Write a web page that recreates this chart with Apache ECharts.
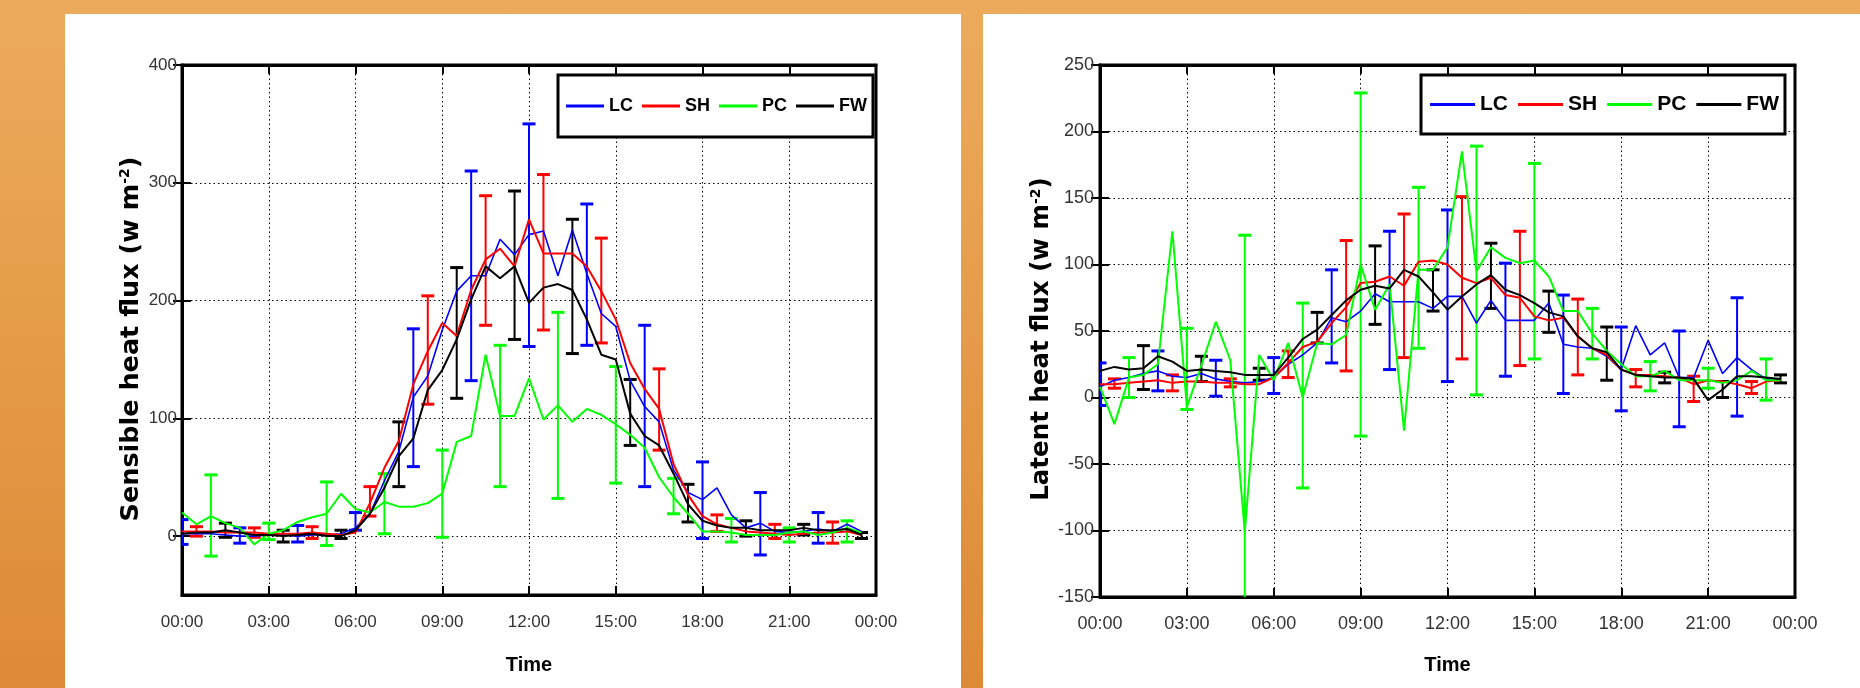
<!DOCTYPE html>
<html>
<head>
<meta charset="utf-8">
<script src="https://cdn.jsdelivr.net/npm/echarts@6/dist/echarts.min.js"></script>
<style>
html, body { margin: 0; padding: 0; }
body { width: 1860px; height: 688px; position: relative; overflow: hidden;
       background: linear-gradient(to bottom, #ecab5c, #dd8a36); }
.panel { position: absolute; top: 14px; bottom: 0; background: #fff; }
#chart { position: absolute; left: 0; top: 0; width: 1860px; height: 688px; }
</style>
</head>
<body>
<div class="panel" style="left:65px;width:896px"></div>
<div class="panel" style="left:983px;width:877px"></div>
<div id="chart"></div>
<script>
// half-hour time steps (hours after midnight)
var halfHours = [0, 0.5, 1, 1.5, 2, 2.5, 3, 3.5, 4, 4.5, 5, 5.5,
                 6, 6.5, 7, 7.5, 8, 8.5, 9, 9.5, 10, 10.5, 11, 11.5,
                 12, 12.5, 13, 13.5, 14, 14.5, 15, 15.5, 16, 16.5, 17, 17.5,
                 18, 18.5, 19, 19.5, 20, 20.5, 21, 21.5, 22, 22.5, 23, 23.5];
var xTickLabels = ['00:00', '03:00', '06:00', '09:00', '12:00', '15:00', '18:00', '21:00', '00:00'];
var sensibleTicks = [0, 100, 200, 300, 400];
var seriesNames = ['LC', 'SH', 'PC', 'FW'];
var seriesColors = ['#0000ff', '#ff0000', '#00ff00', '#000000'];

// times where each site has an error bar
var errTimeLC = [0, 2, 4, 6, 8, 10, 12, 14, 16, 18, 20, 22];
var errTimeSH = [0.5, 2.5, 4.5, 6.5, 8.5, 10.5, 12.5, 14.5, 16.5, 18.5, 20.5, 22.5];
var errTimePC = [1, 3, 5, 7, 9, 11, 13, 15, 17, 19, 21, 23];
var errTimeFW = [1.5, 3.5, 5.5, 7.5, 9.5, 11.5, 13.5, 15.5, 17.5, 19.5, 21.5, 23.5];

// sensible heat flux (w m-2)
var shfLC = [2, 2, 2, 1, 0, 0, 1, 1, 0, 1, 1, 2,
             7, 19, 47, 72, 118, 136, 175, 208, 221, 221, 252, 239,
             256, 259, 221, 260, 223, 189, 178, 132, 110, 97, 56, 37,
             31, 41, 18, 7, 11, 4, 3, 4, 6, 4, 10, 4];
var shfSH = [4, 4, 4, 3, 3, 3, 2, 2, 2, 3, 2, 1,
             3, 28, 58, 81, 129, 157, 181, 170, 209, 235, 244, 229,
             269, 240, 240, 240, 229, 208, 184, 147, 125, 108, 61, 35,
             17, 10, 7, 4, 3, 2, 1, 2, 3, 3, 4, 1];
var shfPC = [20, 10, 17, 11, 7, -7, 2, 5, 12, 16, 19, 36,
             23, 20, 29, 25, 25, 28, 36, 80, 85, 154, 102, 102,
             134, 99, 111, 97, 108, 103, 95, 86, 75, 50, 33, 19,
             4, 4, 3, 1, 1, 1, 3, 4, 1, 3, 7, 3];
var shfFW = [2, 3, 3, 5, 3, 1, 1, 0, 1, 2, 0, 0,
             5, 19, 41, 68, 83, 124, 141, 167, 201, 229, 219, 229,
             198, 211, 214, 209, 184, 154, 150, 104, 85, 77, 53, 27,
             13, 9, 7, 7, 5, 5, 5, 7, 5, 5, 6, 1];

var shfErrLoLC = [-7, -6, -5, 5, 59, 132, 161, 162, 42, -2, -16, -6];
var shfErrHiLC = [14, 7, 9, 20, 176, 310, 350, 282, 179, 63, 37, 20];
var shfErrLoSH = [0, -1, -2, 17, 112, 179, 175, 164, 73, 4, -2, -6];
var shfErrHiSH = [8, 7, 8, 42, 204, 289, 307, 253, 142, 18, 10, 12];
var shfErrLoPC = [-17, -3, -8, 2, -1, 42, 32, 45, 19, -5, -5, -5];
var shfErrHiPC = [52, 11, 46, 53, 73, 162, 190, 144, 49, 15, 7, 13];
var shfErrLoFW = [-1, -5, -2, 42, 117, 167, 155, 77, 12, 0, 1, -2];
var shfErrHiFW = [11, 5, 5, 97, 228, 293, 269, 133, 44, 13, 10, 3];

// latent heat flux (w m-2)
var lhfLC = [8, 13, 15, 18, 20, 16, 15, 18, 14, 12, 11, 12,
             15, 25, 32, 41, 60, 57, 65, 78, 72, 72, 72, 67,
             76, 76, 56, 73, 58, 58, 58, 71, 40, 38, 37, 31,
             21, 54, 32, 41, 15, 15, 43, 18, 30, 21, 14, 13];
var lhfSH = [10, 10, 11, 12, 13, 11, 12, 12, 11, 11, 10, 10,
             15, 26, 38, 42, 56, 68, 86, 87, 91, 84, 102, 103,
             100, 90, 86, 90, 77, 75, 61, 58, 60, 46, 37, 32,
             21, 17, 17, 16, 15, 10, 13, 12, 10, 7, 12, 13];
var lhfPC = [8, -20, 15, 17, 25, 125, -7, 24, 57, 28, -101, 32,
             13, 41, 0, 41, 40, 47, 100, 66, 85, -25, 96, 96,
             113, 185, 95, 113, 105, 101, 103, 91, 65, 65, 48, 35,
             25, 16, 16, 20, 13, 13, 13, 11, 13, 20, 13, 13];
var lhfFW = [20, 23, 21, 22, 31, 27, 20, 21, 20, 19, 17, 17,
             17, 30, 44, 51, 62, 73, 81, 84, 82, 96, 91, 79,
             66, 76, 85, 92, 81, 77, 71, 64, 61, 46, 37, 34,
             21, 17, 16, 15, 15, 14, -2, 6, 16, 16, 15, 14];

var lhfErrLoLC = [-6, 5, 1, 3, 26, 21, 12, 16, 3, -10, -22, -14];
var lhfErrHiLC = [26, 35, 28, 30, 96, 125, 141, 101, 77, 53, 50, 75];
var lhfErrLoSH = [7, 5, 8, 15, 20, 30, 29, 24, 17, 8, -3, 3];
var lhfErrHiSH = [14, 17, 14, 35, 118, 138, 151, 125, 74, 21, 16, 12];
var lhfErrLoPC = [0, -9, -324, -68, -29, 37, 2, 29, 29, 5, 7, -2];
var lhfErrHiPC = [30, 52, 122, 71, 229, 158, 189, 176, 67, 27, 22, 29];
var lhfErrLoFW = [6, 12, 13, 41, 55, 65, 67, 49, 13, 11, 0, 11];
var lhfErrHiFW = [39, 31, 22, 64, 114, 96, 116, 80, 53, 19, 12, 17];

var tickFont = "'Liberation Sans', Arial, sans-serif";

function renderErrorBar(params, api) {
    var t = api.value(0);
    var lo = api.coord([t, api.value(1)]);
    var hi = api.coord([t, api.value(2)]);
    var half = 6.5;
    var c = api.visual('color');
    return {
        type: 'group',
        children: [
            { type: 'line', shape: { x1: lo[0], y1: lo[1], x2: hi[0], y2: hi[1] }, style: { stroke: c, lineWidth: 2 } },
            { type: 'line', shape: { x1: hi[0] - half, y1: hi[1], x2: hi[0] + half, y2: hi[1] }, style: { stroke: c, lineWidth: 3 } },
            { type: 'line', shape: { x1: lo[0] - half, y1: lo[1], x2: lo[0] + half, y2: lo[1] }, style: { stroke: c, lineWidth: 3 } }
        ]
    };
}

function lineSeries(name, vals, axisIdx, color) {
    return {
        name: name, type: 'line', xAxisIndex: axisIdx, yAxisIndex: axisIdx,
        data: halfHours.map(function (t, i) { return [t, vals[i]]; }),
        symbol: 'none', color: color,
        lineStyle: { color: color, width: name === 'LC' ? 1.6 : 2 }
    };
}

function errSeries(name, times, lo, hi, axisIdx, color) {
    return {
        name: name + ' err', type: 'custom', xAxisIndex: axisIdx, yAxisIndex: axisIdx,
        renderItem: renderErrorBar, clip: true,
        itemStyle: { color: color },
        encode: { x: 0, y: [1, 2] },
        data: times.map(function (t, i) { return [t, lo[i], hi[i]]; })
    };
}

function bottomX(grid, fontSize, margin, gap) {
    return {
        type: 'value', gridIndex: grid, min: 0, max: 24, interval: 3,
        name: 'Time', nameLocation: 'middle', nameGap: gap,
        nameTextStyle: { fontFamily: tickFont, fontWeight: 'bold', fontSize: 20, color: '#000' },
        axisLine: { onZero: false, lineStyle: { color: '#000', width: 3 } },
        axisTick: { inside: true, length: 9, lineStyle: { color: '#000', width: 2 } },
        axisLabel: { fontFamily: tickFont, fontSize: fontSize, color: '#333', margin: margin,
            formatter: function (v) { return xTickLabels[Math.round(v / 3)]; } },
        splitLine: { show: true, lineStyle: { color: '#000', width: 1, type: [1.5, 3] } }
    };
}

function topX(grid) {
    return {
        type: 'value', gridIndex: grid, position: 'top', min: 0, max: 24, interval: 3,
        axisLine: { onZero: false, lineStyle: { color: '#000', width: 3 } },
        axisTick: { inside: true, length: 9, lineStyle: { color: '#000', width: 2 } },
        axisLabel: { show: false }, splitLine: { show: false }
    };
}

function nameRich(size) {
    return {
        a: { fontFamily: 'DejaVu Sans', fontWeight: 'bold', fontSize: size, color: '#000' },
        b: { fontFamily: 'DejaVu Sans', fontWeight: 'bold', fontSize: 14, color: '#000', verticalAlign: 'top' }
    };
}

var option = {
    animation: false,
    grid: [
        { left: 182, top: 65, width: 694, height: 530, show: true, borderColor: '#000', borderWidth: 3 },
        { left: 1100, top: 65, width: 695, height: 532, show: true, borderColor: '#000', borderWidth: 3 }
    ],
    legend: [
        {
            data: seriesNames, left: 558, top: 75, orient: 'horizontal',
            icon: 'rect', itemWidth: 38, itemHeight: 3, itemGap: 9,
            padding: [22, 6, 22, 8], borderColor: '#000', borderWidth: 3, backgroundColor: '#fff',
            textStyle: { fontFamily: tickFont, fontWeight: 'bold', fontSize: 18, color: '#000' }
        },
        {
            data: seriesNames, left: 1421, top: 75, orient: 'horizontal',
            icon: 'rect', itemWidth: 45, itemHeight: 3, itemGap: 10,
            padding: [19, 6, 19, 9], borderColor: '#000', borderWidth: 3, backgroundColor: '#fff',
            textStyle: { fontFamily: tickFont, fontWeight: 'bold', fontSize: 21, color: '#000' }
        }
    ],
    xAxis: [bottomX(0, 17, 19, 60), topX(0), bottomX(1, 18, 18, 58), topX(1)],
    yAxis: [
        {
            type: 'value', gridIndex: 0, min: -50, max: 400, interval: 50,
            name: '{a|Sensible heat flux (w m}{b|-2}{a|)}', nameLocation: 'middle', nameGap: 38,
            nameTextStyle: { rich: nameRich(25.5), padding: [0, 18, 0, 0] },
            axisLine: { lineStyle: { color: '#000', width: 3 } },
            axisTick: { inside: true, length: 9, customValues: sensibleTicks, lineStyle: { color: '#000', width: 2 } },
            axisLabel: { customValues: sensibleTicks, fontFamily: tickFont, fontSize: 17, color: '#333', margin: 5 },
            splitLine: { show: true, lineStyle: { color: '#000', width: 1, type: [1.5, 3] } }
        },
        {
            type: 'value', gridIndex: 0, position: 'right', min: -50, max: 400, interval: 50,
            axisLine: { lineStyle: { color: '#000', width: 3 } },
            axisTick: { inside: true, length: 9, customValues: sensibleTicks, lineStyle: { color: '#000', width: 2 } },
            axisLabel: { show: false }, splitLine: { show: false }
        },
        {
            type: 'value', gridIndex: 1, min: -150, max: 250, interval: 50,
            name: '{a|Latent heat flux (w m}{b|-2}{a|)}', nameLocation: 'middle', nameGap: 44,
            nameTextStyle: { rich: nameRich(24.5), padding: [0, 16, 0, 0] },
            axisLine: { lineStyle: { color: '#000', width: 3 } },
            axisTick: { inside: true, length: 9, lineStyle: { color: '#000', width: 2 } },
            axisLabel: { fontFamily: tickFont, fontSize: 18, color: '#333', margin: 6 },
            splitLine: { show: true, lineStyle: { color: '#000', width: 1, type: [1.5, 3] } }
        },
        {
            type: 'value', gridIndex: 1, position: 'right', min: -150, max: 250, interval: 50,
            axisLine: { lineStyle: { color: '#000', width: 3 } },
            axisTick: { inside: true, length: 9, lineStyle: { color: '#000', width: 2 } },
            axisLabel: { show: false }, splitLine: { show: false }
        }
    ],
    series: [
        lineSeries('LC', shfLC, 0, seriesColors[0]),
        errSeries('LC', errTimeLC, shfErrLoLC, shfErrHiLC, 0, seriesColors[0]),
        lineSeries('SH', shfSH, 0, seriesColors[1]),
        errSeries('SH', errTimeSH, shfErrLoSH, shfErrHiSH, 0, seriesColors[1]),
        lineSeries('PC', shfPC, 0, seriesColors[2]),
        errSeries('PC', errTimePC, shfErrLoPC, shfErrHiPC, 0, seriesColors[2]),
        lineSeries('FW', shfFW, 0, seriesColors[3]),
        errSeries('FW', errTimeFW, shfErrLoFW, shfErrHiFW, 0, seriesColors[3]),

        lineSeries('LC', lhfLC, 2, seriesColors[0]),
        errSeries('LC', errTimeLC, lhfErrLoLC, lhfErrHiLC, 2, seriesColors[0]),
        lineSeries('SH', lhfSH, 2, seriesColors[1]),
        errSeries('SH', errTimeSH, lhfErrLoSH, lhfErrHiSH, 2, seriesColors[1]),
        lineSeries('PC', lhfPC, 2, seriesColors[2]),
        errSeries('PC', errTimePC, lhfErrLoPC, lhfErrHiPC, 2, seriesColors[2]),
        lineSeries('FW', lhfFW, 2, seriesColors[3]),
        errSeries('FW', errTimeFW, lhfErrLoFW, lhfErrHiFW, 2, seriesColors[3])
    ]
};

var chart = echarts.init(document.getElementById('chart'), null, { renderer: 'canvas' });
chart.setOption(option);
</script>
</body>
</html>
